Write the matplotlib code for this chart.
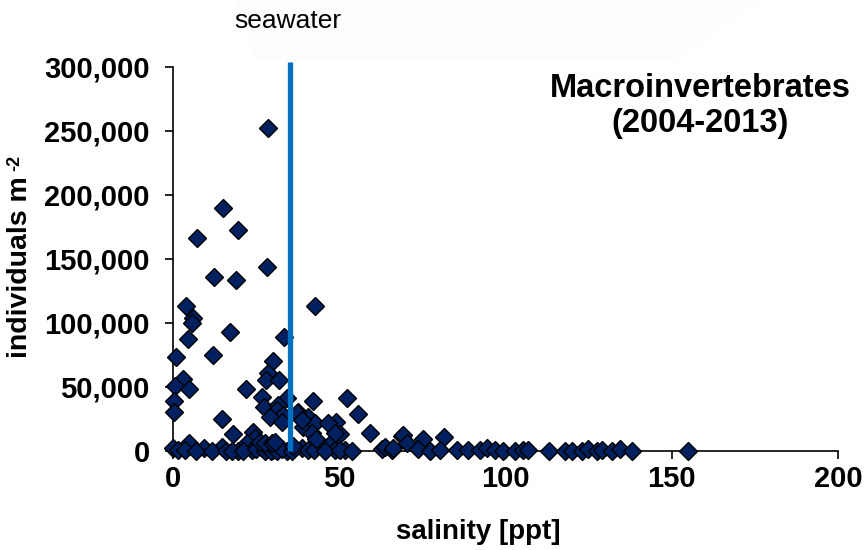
import matplotlib
matplotlib.use("Agg")
import matplotlib.pyplot as plt
from matplotlib.patches import Polygon
from matplotlib.ticker import FuncFormatter

# ##################################################################
# Data (salinity in ppt, individuals per m2)
# ##################################################################
salinity = [
    28.5, 15.0, 19.6, 7.2, 12.1, 18.9, 28.3, 3.8, 6.0, 5.6,
    42.6, 4.4, 17.1, 33.3, 0.8, 11.8, 30.1, 28.6, 27.9, 31.8,
    3.0, 0.5, 4.7, 22.0, 0.2, 0.2, 26.8, 34.1, 41.9, 52.4,
    27.3, 31.5, 31.1, 33.1, 37.6, 55.6, 40.6, 29.1, 14.7, 32.6,
    39.0, 42.6, 49.0, 50.2, 59.2, 68.7, 69.2, 75.2, 81.3, 18.1,
    24.1, 24.6, 4.7, 9.3, 14.6, 19.4, 22.1, 23.6, 26.6, 28.6,
    30.1, 31.6, 34.1, 38.6, 40.6, 44.1, 47.7, 48.7, 51.7, 62.7,
    63.7, 65.7, 70.2, 73.7, 77.2, 80.3, 85.3, 88.8, 92.3, 94.3,
    96.8, 99.3, 102.8, 105.3, 106.8, 113.1, 117.9, 119.9, 122.9, 124.9,
    127.4, 128.9, 131.9, 134.4, 137.9, 155.0,
    0.0, 1.5, 3.5, 6.8, 11.6, 15.9, 17.7, 21.0, 25.0, 27.5,
    29.4, 31.2, 32.7, 35.7, 42.3, 45.6, 50.1, 53.8, 26.1, 27.6,
    29.6, 30.6, 37.1, 38.6, 41.6, 46.6, 48.7, 36.0, 43.0, 66.0,
]
individuals = [
    252000, 189500, 172500, 166000, 136100, 133500, 143400, 113200, 103600, 99700,
    113400, 87400, 93100, 88800, 73400, 74900, 70600, 60900, 55400, 55400,
    56200, 50700, 48400, 48400, 39400, 30700, 42400, 41100, 39300, 41100,
    34000, 35900, 32000, 28100, 30700, 28500, 26800, 26800, 24700, 22900,
    19000, 21600, 22900, 13300, 14100, 11700, 12500, 9100, 10700, 13300,
    15100, 9900, 6500, 2100, 3400, 0, 6000, 800, 2100, 3400,
    800, 2100, 0, 2100, 800, 4700, 7300, 800, 800, 1300,
    3400, 800, 6000, 1600, 0, 800, 800, 800, 800, 2100,
    800, 0, 200, 800, 800, 0, 200, 0, 300, 1300,
    300, 800, 0, 1300, 0, 0,
    2100, 800, 500, 0, 0, 0, 300, 0, 1600, 0,
    300, 0, 1600, 200, 1000, 300, 600, 0, 7300, 6000,
    6000, 7300, 29400, 24200, 13800, 21600, 13800, 4000, 9000, 2500,
]

seawater_salinity = 35
x_ticks = [0, 50, 100, 150, 200]
y_ticks = [0, 50000, 100000, 150000, 200000, 250000, 300000]

plt.rcParams['font.family'] = ['Liberation Sans', 'DejaVu Sans']

fig = plt.figure(figsize=(8.65, 5.5), dpi=100)
fig.patch.set_facecolor('white')

# very faint grey shape behind the "seawater" label
fig.patches.append(Polygon([(235 / 865, 1.0), (760 / 865, 1.0), (675 / 865, 1 - 60 / 550),
                            (255 / 865, 1 - 60 / 550)], closed=True,
                           transform=fig.transFigure, facecolor='#fdfdfd',
                           edgecolor='none', zorder=0))

ax = fig.add_axes([173.3 / 865, 1 - 451 / 550, (838 - 173.3) / 865, (451 - 66.7) / 550])
ax.set_facecolor('none')

ax.plot(salinity, individuals, linestyle='none', marker='D', markersize=9,
        markerfacecolor='#002060', markeredgecolor='black', markeredgewidth=1,
        clip_on=False, zorder=3)

ax.plot([seawater_salinity, seawater_salinity], [0, 304000], color='#0070C0',
        linewidth=3.8, solid_capstyle='butt', clip_on=False, zorder=4)

ax.set_xlim(0, 200)
ax.set_ylim(0, 300000)
ax.set_xticks(x_ticks)
ax.set_yticks(y_ticks)
ax.yaxis.set_major_formatter(FuncFormatter(lambda v, p: '{:,.0f}'.format(v)))

for side in ['top', 'right']:
    ax.spines[side].set_visible(False)
for side in ['left', 'bottom']:
    ax.spines[side].set_linewidth(1.2)

ax.tick_params(axis='both', direction='out', length=6, width=1.2, labelsize=21)
ax.tick_params(axis='x', pad=4)
ax.tick_params(axis='y', pad=11)
for lab in ax.get_xticklabels() + ax.get_yticklabels():
    lab.set_fontweight('bold')

fig.text(478 / 865, 1 - 532 / 550, 'salinity [ppt]', ha='center', va='center',
         fontsize=20, fontweight='bold')
# y label with a plain hyphen superscript, as in the original
fig.text(20 / 865, 1 - 358 / 550, 'individuals m', ha='center', va='bottom',
         rotation=90, fontsize=20.5, fontweight='bold')
fig.text(15 / 865, 1 - 171 / 550, '-2', ha='center', va='bottom',
         rotation=90, fontsize=13, fontweight='bold')

fig.text(700 / 865, 1 - 106 / 550, 'Macroinvertebrates\n(2004-2013)', ha='center',
         va='center', fontsize=23.5, fontweight='bold', linespacing=1.2)
fig.text(288 / 865, 1 - 21 / 550, 'seawater', ha='center', va='center', fontsize=19)

fig.savefig('out.png', dpi=100, facecolor='white')
